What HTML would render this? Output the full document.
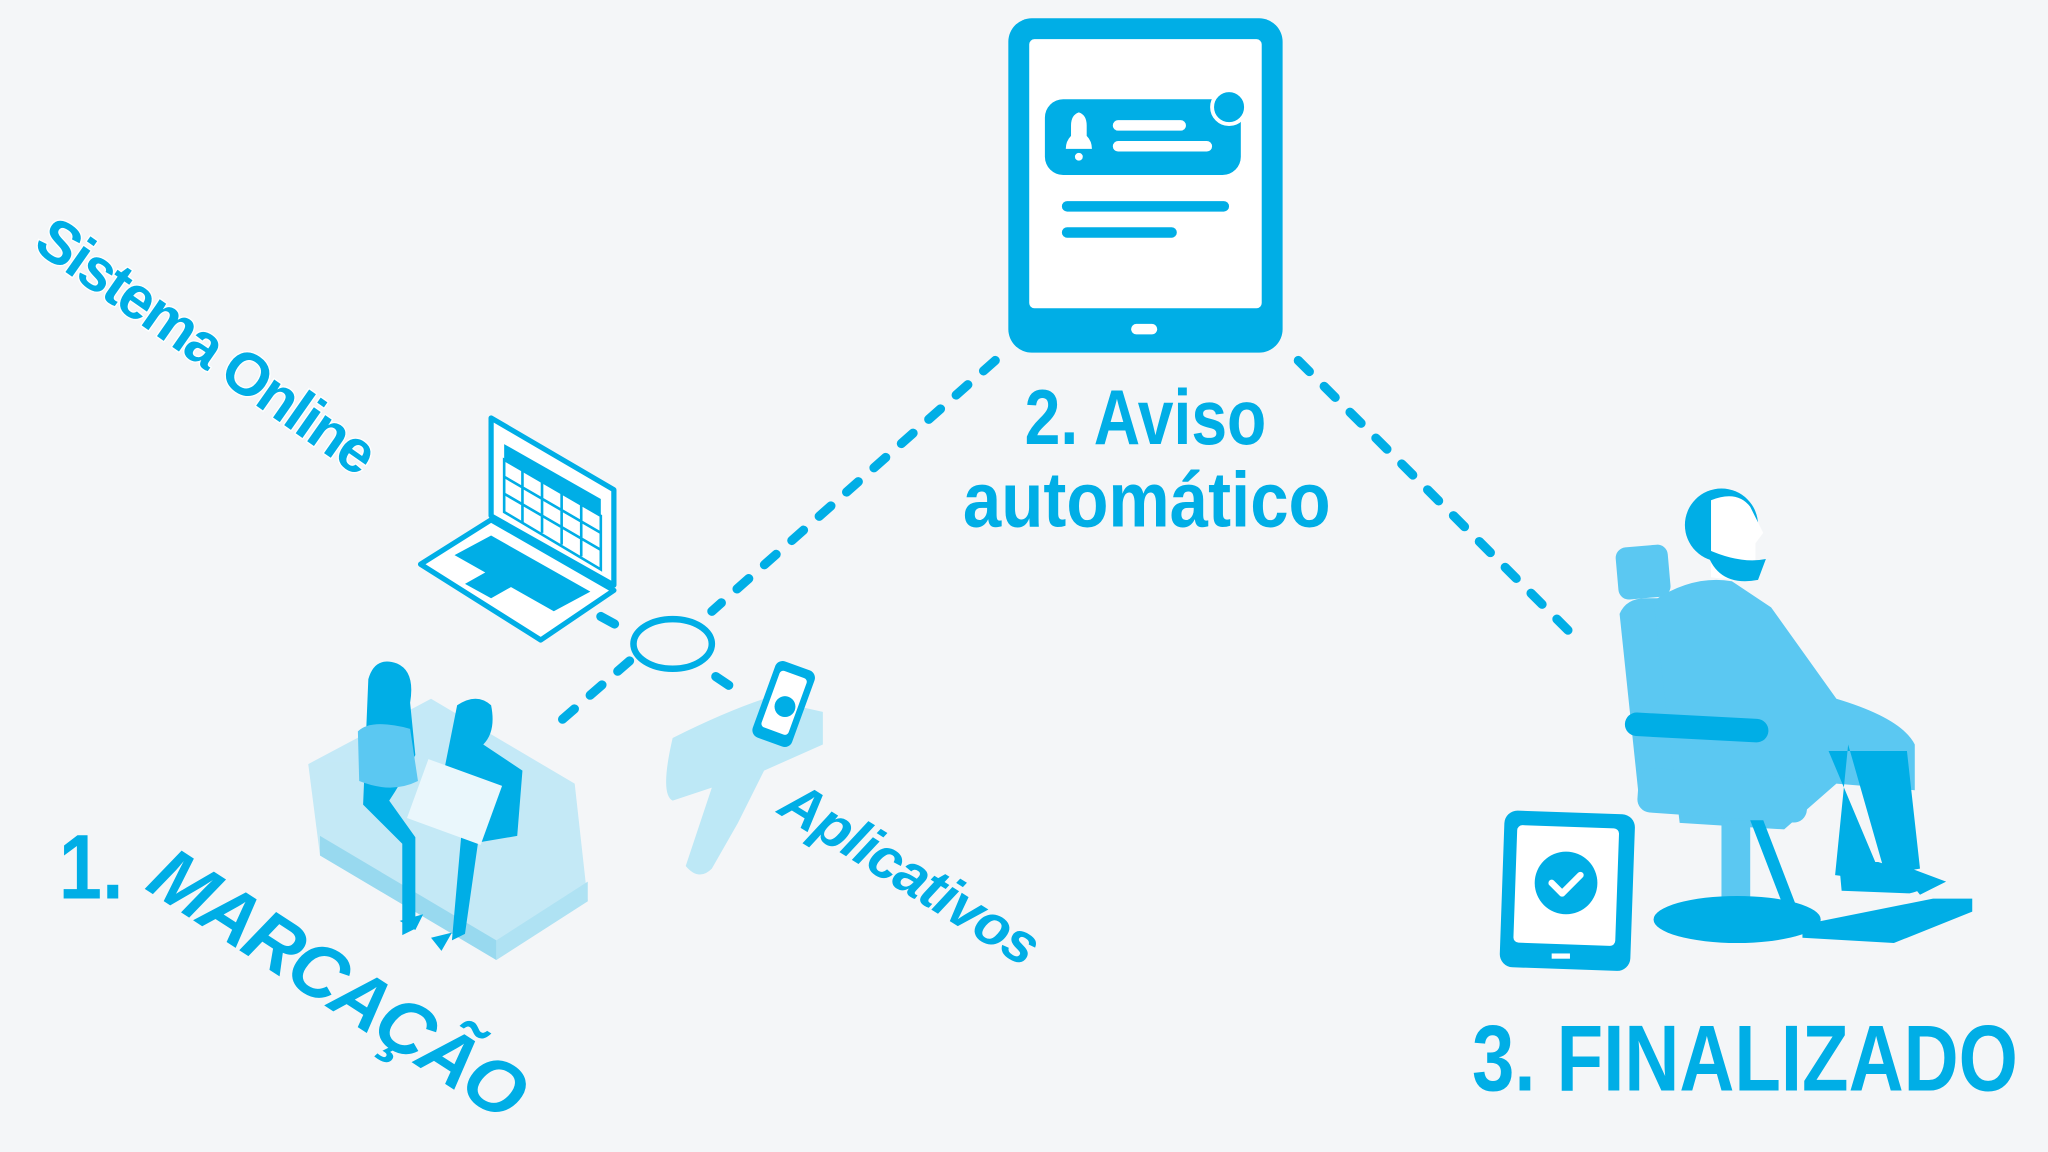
<!DOCTYPE html>
<html><head><meta charset="utf-8"><style>
html,body{margin:0;padding:0;background:#f4f6f8;}
svg{display:block}
text{font-family:"Liberation Sans",sans-serif;font-weight:bold;fill:#00aee6}
</style></head><body>
<svg width="2048" height="1152" viewBox="0 0 1568 882" xmlns="http://www.w3.org/2000/svg">
<rect width="1568" height="882" fill="#f4f6f8"/>
<!-- Tablet top -->
<rect x="772" y="14" width="210" height="256" rx="18" fill="#00aee6"/>
<rect x="788" y="30" width="178" height="206" rx="4" fill="#fff"/>
<rect x="866" y="248" width="20" height="8" rx="4" fill="#fff"/>
<rect x="800" y="76" width="150" height="58" rx="14" fill="#00aee6"/>
<path d="M816 114 q0-6 4-10 v-8 q0-8 6-10 q6 2 6 10 v8 q4 4 4 10 z" fill="#fff"/>
<circle cx="826" cy="120" r="3" fill="#fff"/>
<rect x="852" y="92" width="56" height="8" rx="4" fill="#fff"/>
<rect x="852" y="108" width="76" height="8" rx="4" fill="#fff"/>
<circle cx="941" cy="82" r="13" fill="#00aee6" stroke="#fff" stroke-width="3"/>
<rect x="813" y="154" width="128" height="8" rx="4" fill="#00aee6"/>
<rect x="813" y="174" width="88" height="8" rx="4" fill="#00aee6"/>
<!-- labels -->
<text font-size="60" text-anchor="middle" transform="translate(877,340) scale(0.82,1)">2. Aviso</text>
<text font-size="60" text-anchor="middle" transform="translate(878,403) scale(0.88,1)">automático</text>
<!-- dashed lines -->
<g stroke="#00aee6" stroke-width="7" stroke-linecap="round" stroke-dasharray="12 16" fill="none">
<line x1="762" y1="276" x2="545" y2="468"/>
<line x1="994" y1="276" x2="1208" y2="490"/>
<line x1="460" y1="472" x2="482" y2="484"/>
<line x1="482" y1="506" x2="420" y2="560"/>
<line x1="548" y1="518" x2="560" y2="526"/>
</g>
<ellipse cx="515" cy="493" rx="30" ry="19" fill="none" stroke="#00aee6" stroke-width="5"/>
<!-- Sistema Online -->
<text font-size="46" letter-spacing="-2" transform="translate(24,190) rotate(35)" stroke="#fff" stroke-width="2" paint-order="stroke">Sistema Online</text>
<!-- laptop -->
<g stroke="#00aee6" stroke-width="4" stroke-linejoin="round">
<polygon points="376,320 470,375 470,448 376,395" fill="#fff"/>
<polygon points="322,432 376,398 470,452 414,490" fill="#fff"/>
</g>
<polygon points="386,340 460,382 460,395 386,352" fill="#00aee6"/>
<g stroke="#00aee6" stroke-width="2" fill="none">
<path d="M386 352 v40 l74 44 v-41z"/>
<path d="M386 365 l74 43 M386 378 l74 43 M400 360 v40 M415 368 v40 M430 377 v40 M445 386 v40"/>
</g>
<polygon points="348,425 376,410 452,453 424,468" fill="#00aee6"/>
<polygon points="356,447 372,438 392,449 376,458" fill="#00aee6"/>
<!-- couple on sofa -->
<g opacity="0.9">
<polygon points="236,585 330,535 440,600 450,690 380,735 245,655" fill="#bfe8f6"/>
<polygon points="245,655 380,735 380,720 245,640" fill="#8fd6ef"/>
<polygon points="380,720 450,675 450,690 380,735" fill="#a8e0f3"/>
</g>
<path d="M282 520 q5-18 22-12 q14 6 10 30 l4 40 q-10 20 -20 35 l20 28 v70 l-10 5 v-70 l-30 -30 z" fill="#00aee6"/>
<path d="M274 560 q10-10 40 -2 l6 40 q-20 10 -45 0z" fill="#5bc8f2"/>
<path d="M350 540 q15-10 26 0 q4 20 -6 30 l30 20 l-4 50 l-30 5 l-10 70 l-10 5 l8-90 l-18 -20 z" fill="#00aee6"/>
<rect x="318" y="590" width="60" height="48" fill="#eaf7fc" transform="rotate(20 348 614)"/>
<path d="M306 705 l18 -5 l-6 12z M330 718 l16 -4 l-8 14z" fill="#00aee6"/>
<text font-size="70" transform="translate(45,688) scale(0.85,1)">1.</text>
<text font-size="58" font-style="italic" letter-spacing="-2" transform="translate(110,680) rotate(33)">MARCAÇÃO</text>
<!-- hand with phone -->
<g fill="#bde8f6">
<path d="M515 565 q40-20 70-30 l45 10 v25 l-45 20 l-20 40 l-20 35 q-10 10 -20 -2 l20 -60 l-30 10 q-10 -5 0 -48z"/>
</g>
<rect x="584" y="508" width="32" height="62" rx="6" fill="#00aee6" transform="rotate(20 600 539)"/>
<rect x="589" y="515" width="22" height="46" rx="3" fill="#fff" transform="rotate(20 600 539)"/>
<circle cx="601" cy="541" r="8" fill="#00aee6"/>
<text font-size="44" font-style="italic" letter-spacing="-1" transform="translate(594,622) rotate(32)">Aplicativos</text>
<!-- barber -->
<rect x="1238" y="418" width="40" height="40" rx="8" fill="#5bc8f2" transform="rotate(-5 1258 438)"/>
<path d="M1240 470 q5-12 20-12 h25 l10 140 l-40 15 z" fill="#5bc8f2"/>
<path d="M1266 460 q30 -20 60 -15 l30 20 l50 70 q50 15 60 35 v35 l-60 -5 l-40 35 l-80 -5 z" fill="#5bc8f2"/>
<path d="M1400 575 l60 0 l10 90 l-30 5 z M1415 570 l-10 100 l40 5 z" fill="#00aee6"/>
<path d="M1408 660 h30 l32 10 q10 10 -8 14 l-52 -2z M1450 660 l40 15 l-20 10 z" fill="#00aee6"/>
<rect x="1244" y="548" width="110" height="18" rx="9" fill="#00aee6" transform="rotate(3 1300 557)"/>
<rect x="1254" y="592" width="130" height="34" rx="10" fill="#5bc8f2" transform="rotate(4 1320 609)"/>
<rect x="1318" y="628" width="22" height="70" fill="#5bc8f2"/>
<path d="M1340 628 l10 0 l25 65 l-10 0z" fill="#00aee6"/>
<ellipse cx="1330" cy="704" rx="64" ry="18" fill="#00aee6"/>
<path d="M1380 708 l100 -20 h30 v10 l-60 24 l-70 -4 z" fill="#00aee6"/>
<circle cx="1318" cy="402" r="28" fill="#00aee6"/>
<path d="M1310 383 q20-8 30 5 l10 20 l-6 8 l0 20 q-8 10 -34 6 z" fill="#fff"/>
<path d="M1306 420 q8 30 40 24 l6 -16 q-20 4 -46 -8z" fill="#00aee6"/>
<!-- small tablet with check -->
<rect x="1150" y="622" width="100" height="120" rx="10" fill="#00aee6" transform="rotate(2 1200 682)"/>
<rect x="1160" y="633" width="78" height="90" rx="4" fill="#fff" transform="rotate(2 1200 682)"/>
<circle cx="1199" cy="676" r="24" fill="#00aee6"/>
<path d="M1188 676 l8 8 l14 -14" stroke="#fff" stroke-width="5" fill="none" stroke-linecap="round" stroke-linejoin="round"/>
<rect x="1188" y="730" width="14" height="4" fill="#fff"/>
<text font-size="72" transform="translate(1127,835) scale(0.81,1)">3. FINALIZADO</text>
</svg>
</body></html>
